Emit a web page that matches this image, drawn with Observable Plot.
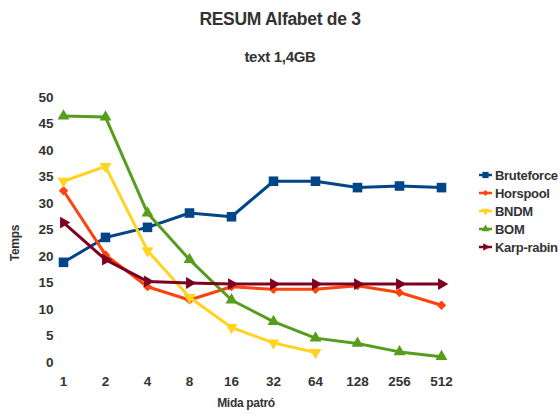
<!DOCTYPE html>
<html><head><meta charset="utf-8">
<script src="https://cdn.jsdelivr.net/npm/d3@7"></script>
<script src="https://cdn.jsdelivr.net/npm/@observablehq/plot@0.6"></script>
<style>
body{margin:0;background:#fff}
#c{position:relative;width:560px;height:417px;font-family:"Liberation Sans",Arial,sans-serif;overflow:hidden}
#c svg{position:absolute;left:0;top:0}
.t{position:absolute;font-weight:bold;color:#333;white-space:nowrap;letter-spacing:-0.3px}
</style></head>
<body><div id="c"></div>
<script>
const sizes = ["1","2","4","8","16","32","64","128","256","512"];
const seriesNames = ["Bruteforce","Horspool","BNDM","BOM","Karp-rabin"];
const colors = ["#004586","#ff420e","#ffd320","#579d1c","#7e0021"];
const bruteforce = [18.9,23.6,25.5,28.2,27.5,34.2,34.2,33.0,33.3,33.0];
const horspool   = [32.4,20.3,14.3,11.8,14.3,13.8,13.8,14.5,13.2,10.8];
const bndm       = [34.2,37.0,21.1,12.3,6.6,3.7,1.9,null,null,null];
const bom        = [46.5,46.3,28.2,19.4,11.8,7.7,4.6,3.6,2.0,1.1];
const karpRabin  = [26.4,19.4,15.3,15.0,14.8,14.8,14.8,14.8,14.8,14.8];
const yTicks = [0,5,10,15,20,25,30,35,40,45,50];

const values = [bruteforce,horspool,bndm,bom,karpRabin];
const symbols = [
  {symbol:"square", r:5.4, rotate:0},
  {symbol:"diamond2", r:4.2, rotate:0},
  {symbol:"triangle", r:4.4, rotate:180},
  {symbol:"triangle", r:4.4, rotate:0},
  {symbol:"triangle", r:4.4, rotate:90}
];

const rows = [];
seriesNames.forEach((s,i)=>values[i].forEach((v,j)=>rows.push({series:s,size:sizes[j],value:v})));

const marks = [];
seriesNames.forEach((s,i)=>{
  const d = rows.filter(r=>r.series===s);
  marks.push(Plot.line(d,{x:"size",y:"value",stroke:colors[i],strokeWidth:3,strokeLinejoin:"round"}));
  marks.push(Plot.dot(d.filter(r=>r.value!=null),{x:"size",y:"value",fill:colors[i],stroke:"none",symbol:symbols[i].symbol,r:symbols[i].r,rotate:symbols[i].rotate}));
});

const chart = Plot.plot({
  width:560, height:417,
  marginLeft:63, marginRight:119, marginTop:97, marginBottom:55,
  x:{type:"point", domain:sizes, padding:0},
  y:{domain:[0,50]},
  style:{background:"transparent"},
  marks:[
    Plot.axisY({ticks:yTicks, tickSize:0, tickPadding:10, fontSize:13.5, fontWeight:"bold", fill:"#333", label:null, style:{letterSpacing:"-0.3px"}}),
    Plot.axisX({tickSize:0, tickPadding:14, fontSize:13.5, fontWeight:"bold", fill:"#333", label:null, style:{letterSpacing:"-0.3px"}}),
    ...marks
  ]
});
chart.style.fontFamily = '"Liberation Sans",Arial,sans-serif';
const c = document.getElementById("c");
c.appendChild(chart);

// Legend drawn into the chart's SVG
const svg = d3.select(chart);
const lg = svg.append("g").attr("text-anchor","start");
const legendY = [175,193,211,229,247];
seriesNames.forEach((s,i)=>{
  const g = lg.append("g").attr("transform",`translate(0,${legendY[i]})`);
  g.append("line").attr("x1",479).attr("x2",492).attr("y1",0).attr("y2",0).attr("stroke",colors[i]).attr("stroke-width",2.5);
  const sym = symbols[i];
  const type = sym.symbol==="square"?d3.symbolSquare:sym.symbol==="diamond2"?d3.symbolDiamond2:d3.symbolTriangle;
  g.append("path").attr("d",d3.symbol(type, Math.PI*(sym.r*0.65)**2)()).attr("fill",colors[i])
   .attr("transform",`translate(485.5,0) rotate(${sym.rotate})`);
  g.append("text").attr("x",495).attr("y",0).attr("dy","0.36em").attr("text-anchor","start")
   .attr("font-size",13).attr("font-weight","bold")
   .attr("fill","#333").attr("letter-spacing","-0.3px").text(s);
});

function addText(txt, css){
  const d = document.createElement("div");
  d.className = "t"; d.textContent = txt;
  Object.assign(d.style, css);
  c.appendChild(d);
}
addText("RESUM Alfabet de 3",{left:"0",width:"560px",textAlign:"center",top:"9px",fontSize:"17.5px",lineHeight:"20px"});
addText("text 1,4GB",{left:"0",width:"560px",textAlign:"center",top:"48px",fontSize:"15px",lineHeight:"18px"});
addText("Mida patró",{left:"0",width:"492px",textAlign:"center",top:"395px",fontSize:"12px",lineHeight:"16px"});
addText("Temps",{left:"15px",top:"243px",fontSize:"12px",lineHeight:"16px",transform:"translate(-50%,-50%) rotate(-90deg)"});
</script>
</body></html>
